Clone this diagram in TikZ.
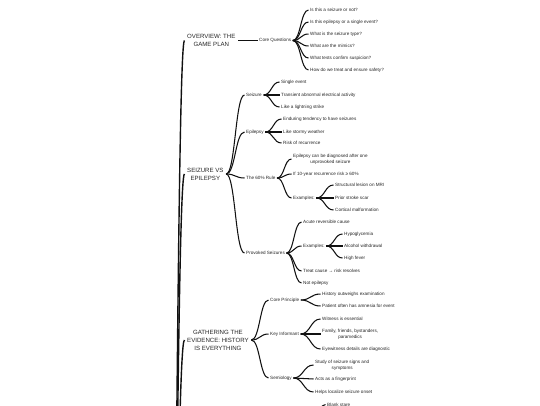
\documentclass[tikz,border=0pt]{standalone}
\usepackage{fontspec}
\setmainfont{Liberation Sans}
\usetikzlibrary{calc}
\definecolor{ink}{HTML}{262626}
\definecolor{wire}{HTML}{111111}

% curved links from one parent to a list of children
\newcommand\lnk[2]{%
  \foreach \kid in {#2} {%
    \draw[link] let \p1=(#1.east), \p2=(\kid.west) in
      (\p1) .. controls ({(\x1+\x2)/2},\y1) and ({(\x1+\x2)/2},\y2) .. (\p2);
  }%
}

\begin{document}
\begin{tikzpicture}[
    x=1pt, y=-1pt,
    leaf/.style={font=\fontsize{4.6}{6}\selectfont, text=ink, anchor=west,
                 inner xsep=1.5pt, inner ysep=0.5pt, align=center},
    topic/.style={font=\fontsize{6.1}{8}\selectfont, text=ink, anchor=west,
                  inner xsep=2.5pt, inner ysep=0.5pt, align=center},
    link/.style={draw=wire, line width=1.05pt},
    trunk/.style={draw=wire, line width=1.4pt}
]
\useasboundingbox (0,0) rectangle (540,405);
\fill[white] (0,0) rectangle (540,405);

\coordinate (root) at (168,900);

% Overview
\node[topic] (s1) at (184.5,40.5) {OVERVIEW: THE\\GAME PLAN};
\node[leaf] (cq) at (257.5,40.5) {Core Questions};
\node[leaf] (q1) at (308.5,10) {Is this a seizure or not?};
\node[leaf] (q2) at (308.5,22) {Is this epilepsy or a single event?};
\node[leaf] (q3) at (308.5,34) {What is the seizure type?};
\node[leaf] (q4) at (308.5,46) {What are the mimics?};
\node[leaf] (q5) at (308.5,58) {What tests confirm suspicion?};
\node[leaf] (q6) at (308.5,70) {How do we treat and ensure safety?};

% Seizure vs epilepsy
\node[topic] (s2) at (184.5,174) {SEIZURE VS\\EPILEPSY};
\node[leaf] (sz) at (244.5,95) {Seizure};
\node[leaf] (sz1) at (279.5,82) {Single event};
\node[leaf] (sz2) at (279.5,95) {Transient abnormal electrical activity};
\node[leaf] (sz3) at (279.5,107) {Like a lightning strike};
\node[leaf] (ep) at (244.5,132) {Epilepsy};
\node[leaf] (ep1) at (281.5,119) {Enduring tendency to have seizures};
\node[leaf] (ep2) at (281.5,132) {Like stormy weather};
\node[leaf] (ep3) at (281.5,143) {Risk of recurrence};
\node[leaf] (r60) at (244.5,178) {The 60\% Rule};
\node[leaf] (r1) at (291.5,159) {Epilepsy can be diagnosed after one\\unprovoked seizure};
\node[leaf] (r2) at (291.5,174) {If 10-year recurrence risk ≥ 60\%};
\node[leaf] (rx) at (291.5,198) {Examples:};
\node[leaf] (rx1) at (333.5,185) {Structural lesion on MRI};
\node[leaf] (rx2) at (333.5,198) {Prior stroke scar};
\node[leaf] (rx3) at (333.5,210) {Cortical malformation};
\node[leaf] (pv) at (244.5,253) {Provoked Seizures};
\node[leaf] (pv1) at (301.5,222) {Acute reversible cause};
\node[leaf] (pvx) at (301.5,246) {Examples:};
\node[leaf] (pvx1) at (342.5,234) {Hypoglycemia};
\node[leaf] (pvx2) at (342.5,246) {Alcohol withdrawal};
\node[leaf] (pvx3) at (342.5,258) {High fever};
\node[leaf] (pv3) at (301.5,271) {Treat cause → risk resolves};
\node[leaf] (pv4) at (301.5,283) {Not epilepsy};

% Gathering the evidence
\node[topic] (s3) at (184.5,340) {GATHERING THE\\EVIDENCE: HISTORY\\IS EVERYTHING};
\node[leaf] (cp) at (268.5,300) {Core Principle};
\node[leaf] (cp1) at (320.5,294) {History outweighs examination};
\node[leaf] (cp2) at (320.5,306) {Patient often has amnesia for event};
\node[leaf] (ki) at (268.5,334) {Key Informant};
\node[leaf] (ki1) at (320.5,319) {Witness is essential};
\node[leaf] (ki2) at (320.5,334) {Family, friends, bystanders,\\paramedics};
\node[leaf] (ki3) at (320.5,349) {Eyewitness details are diagnostic};
\node[leaf] (sm) at (268.5,378) {Semiology};
\node[leaf] (sm1) at (313.5,365) {Study of seizure signs and\\symptoms};
\node[leaf] (sm2) at (313.5,379) {Acts as a fingerprint};
\node[leaf] (sm3) at (313.5,392) {Helps localize seizure onset};

% next branch, cut by the frame
\coordinate (nx) at (306,440);
\node[leaf] (bl) at (325.5,404.5) {Blank stare};

\foreach \sec in {s1,s2,s3}
  \draw[trunk] (root) .. controls +(8,0) and +(-8,0) .. (\sec.west);

\lnk{s1}{cq}
\lnk{cq}{q1,q2,q3,q4,q5,q6}
\lnk{s2}{sz,ep,r60,pv}
\lnk{sz}{sz1,sz2,sz3}
\lnk{ep}{ep1,ep2,ep3}
\lnk{r60}{r1,r2,rx}
\lnk{rx}{rx1,rx2,rx3}
\lnk{pv}{pv1,pvx,pv3,pv4}
\lnk{pvx}{pvx1,pvx2,pvx3}
\lnk{s3}{cp,ki,sm}
\lnk{cp}{cp1,cp2}
\lnk{ki}{ki1,ki2,ki3}
\lnk{sm}{sm1,sm2,sm3}
\draw[link] (nx) .. controls +(10,0) and +(-10,0) .. (bl.west);
\end{tikzpicture}
\end{document}
